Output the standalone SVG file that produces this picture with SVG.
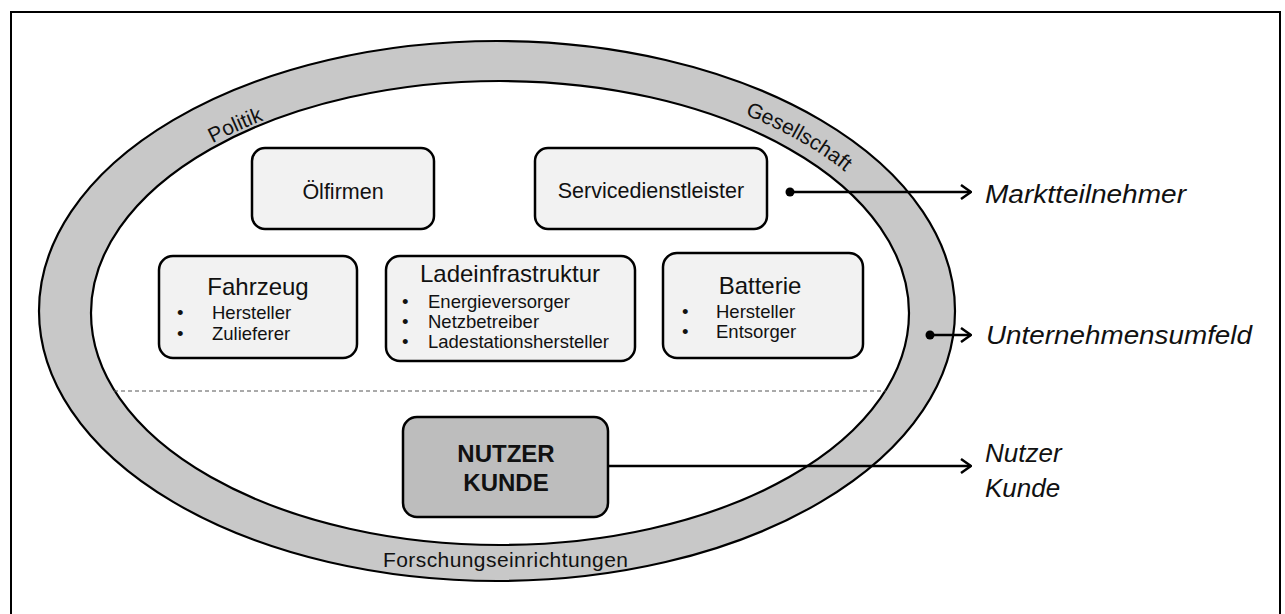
<svg xmlns="http://www.w3.org/2000/svg" width="1285" height="614" viewBox="0 0 1285 614">
<defs>
<style>
text{font-family:"Liberation Sans",Arial,sans-serif;fill:#111}
.box{fill:#f2f2f2;stroke:#000;stroke-width:2.5}
.dark{fill:#bdbdbd;stroke:#000;stroke-width:2.5}
.lbl{font-size:21.5px;text-anchor:middle}
.ttl{font-size:24px;text-anchor:middle}
.itm{font-size:18.5px}
.band{font-size:21px}
.side{font-size:26px;font-style:italic}
.conn{stroke:#000;stroke-width:2.5;fill:none}
</style>
<marker id="arr" viewBox="0 0 12 16" refX="11" refY="8" markerWidth="12" markerHeight="16" markerUnits="userSpaceOnUse" orient="auto">
<path d="M1 1 L11 8 L1 15" fill="none" stroke="#000" stroke-width="2.5"/>
</marker>
<path id="midL" d="M 82 312 A 416 232 0 0 1 914 312"/>
<path id="midR" d="M 72 312 A 426 242 0 0 1 924 312"/>
</defs>
<rect x="11" y="12" width="1269" height="640" fill="#fff" stroke="#000" stroke-width="2"/>
<g id="umfeld">
<ellipse cx="497" cy="311" rx="458" ry="270" fill="#c8c8c8" stroke="#000" stroke-width="2.2"/>
<ellipse cx="500" cy="313" rx="409" ry="232" fill="#fff" stroke="#000" stroke-width="2.2"/>
<text class="band"><textPath href="#midL" startOffset="24.3%" text-anchor="middle">Politik</textPath></text>
<text class="band"><textPath href="#midR" startOffset="79%" text-anchor="middle">Gesellschaft</textPath></text>
<text class="band" x="383" y="567" textLength="245">Forschungseinrichtungen</text>
</g>
<line x1="114" y1="391" x2="886" y2="391" stroke="#555" stroke-width="1" stroke-dasharray="4 3"/>
<g id="oelfirmen">
<rect class="box" x="252" y="148" width="182" height="81" rx="13"/>
<text class="lbl" x="343" y="199">Ölfirmen</text>
</g>
<g id="service">
<rect class="box" x="535" y="148" width="232" height="81" rx="13"/>
<text class="lbl" x="651" y="198">Servicedienstleister</text>
</g>
<g id="fahrzeug">
<rect class="box" x="159" y="256" width="198" height="102" rx="14"/>
<text class="ttl" x="258" y="295">Fahrzeug</text>
<text class="itm" x="177" y="319">•</text><text class="itm" x="212" y="319">Hersteller</text>
<text class="itm" x="177" y="340">•</text><text class="itm" x="212" y="340">Zulieferer</text>
</g>
<g id="lade">
<rect class="box" x="386" y="256" width="249" height="105" rx="14"/>
<text class="ttl" x="510" y="282">Ladeinfrastruktur</text>
<text class="itm" x="402" y="308">•</text><text class="itm" x="428" y="308">Energieversorger</text>
<text class="itm" x="402" y="328">•</text><text class="itm" x="428" y="328">Netzbetreiber</text>
<text class="itm" x="402" y="348">•</text><text class="itm" x="428" y="348">Ladestationshersteller</text>
</g>
<g id="batterie">
<rect class="box" x="663" y="253" width="200" height="105" rx="14"/>
<text class="ttl" x="760" y="294">Batterie</text>
<text class="itm" x="682" y="318">•</text><text class="itm" x="716" y="318">Hersteller</text>
<text class="itm" x="682" y="338">•</text><text class="itm" x="716" y="338">Entsorger</text>
</g>
<g id="nutzer">
<rect class="dark" x="403" y="417" width="205" height="100" rx="14"/>
<text x="506" y="462" font-size="24" font-weight="bold" text-anchor="middle">NUTZER</text>
<text x="506" y="491" font-size="24" font-weight="bold" text-anchor="middle">KUNDE</text>
</g>
<g id="connectors">
<circle cx="790" cy="192" r="4.5" fill="#000"/>
<line class="conn" x1="790" y1="192" x2="971" y2="192" marker-end="url(#arr)"/>
<circle cx="930" cy="335" r="4.5" fill="#000"/>
<line class="conn" x1="930" y1="335" x2="971" y2="335" marker-end="url(#arr)"/>
<line class="conn" x1="608" y1="466" x2="971" y2="466" marker-end="url(#arr)"/>
</g>
<g id="labels">
<text class="side" x="985" y="203" textLength="201" lengthAdjust="spacingAndGlyphs">Marktteilnehmer</text>
<text class="side" x="986" y="344" textLength="266" lengthAdjust="spacingAndGlyphs">Unternehmensumfeld</text>
<text class="side" x="985" y="462">Nutzer</text>
<text class="side" x="985" y="497">Kunde</text>
</g>
</svg>
